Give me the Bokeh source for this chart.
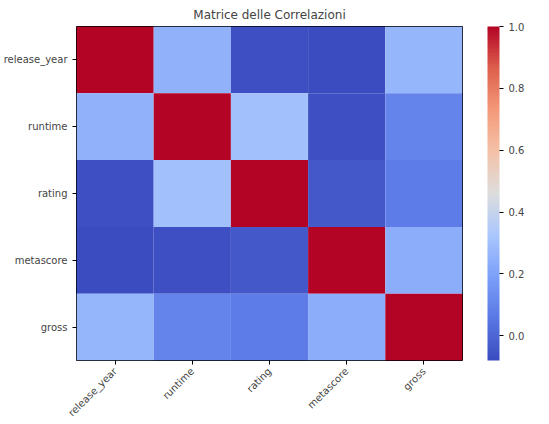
from bokeh.plotting import figure
from bokeh.models import ColumnDataSource, LinearColorMapper, ColorBar, FixedTicker, PrintfTickFormatter, Label
from bokeh.embed import file_html
from bokeh.resources import INLINE
import numpy as np

variables = ["release_year", "runtime", "rating", "metascore", "gross"]
corr = [
    [1.00, 0.25, -0.07, -0.08, 0.27],
    [0.25, 1.00, 0.30, -0.07, 0.10],
    [-0.07, 0.30, 1.00, -0.04, 0.07],
    [-0.08, -0.07, -0.04, 1.00, 0.24],
    [0.27, 0.10, 0.07, 0.24, 1.00],
]
cbar_ticks = [0.0, 0.2, 0.4, 0.6, 0.8, 1.0]

# coolwarm palette approximation
anchors = [(0.0, (59, 76, 192)), (0.125, (90, 120, 229)), (0.25, (124, 159, 249)),
           (0.375, (170, 199, 253)), (0.5, (221, 221, 221)), (0.625, (244, 194, 168)),
           (0.75, (244, 154, 123)), (0.875, (222, 96, 77)), (1.0, (180, 4, 38))]
pal = []
for i in range(256):
    t = i / 255
    for (t0, c0), (t1, c1) in zip(anchors[:-1], anchors[1:]):
        if t0 <= t <= t1:
            f = (t - t0) / (t1 - t0)
            c = [round(a + (b - a) * f) for a, b in zip(c0, c1)]
            pal.append("#%02x%02x%02x" % tuple(c))
            break

xs, ys, vs = [], [], []
for i, r in enumerate(variables):
    for j, c in enumerate(variables):
        xs.append(c); ys.append(r); vs.append(corr[i][j])
src = ColumnDataSource(dict(x=xs, y=ys, v=vs))
vmin = min(vs)
mapper = LinearColorMapper(palette=pal, low=vmin, high=1.0)

p = figure(x_range=variables, y_range=list(reversed(variables)), frame_width=386, frame_height=334,
           output_backend="svg", toolbar_location=None, min_border_left=12, min_border_top=4,
           min_border_right=34)
p.rect("x", "y", 1, 1, source=src, fill_color={"field": "v", "transform": mapper}, line_color=None)
p.title.text = "Matrice delle Correlazioni"
p.title.align = "center"
p.title.text_font = "DejaVu Sans"
p.title.text_font_size = "12px"
p.title.text_font_style = "normal"
p.grid.visible = False
p.outline_line_color = "black"
p.x_range.range_padding = 0
p.y_range.range_padding = 0
for ax in (p.xaxis, p.yaxis):
    ax.major_label_text_font = "DejaVu Sans"
    ax.major_label_text_font_size = "10px"
    ax.axis_line_color = None
    ax.major_tick_out = 4
    ax.major_tick_in = 0
p.xaxis.major_label_orientation = np.pi / 4

cb = ColorBar(color_mapper=mapper, width=12, height=334, ticker=FixedTicker(ticks=cbar_ticks),
              formatter=PrintfTickFormatter(format="%.1f"), major_label_text_font="DejaVu Sans",
              major_label_text_font_size="10px", padding=0, margin=0, bar_line_color=None,
              major_tick_line_color="black", major_tick_out=4, major_tick_in=0, location=(25, 0))
p.add_layout(cb, "right")
p.add_layout(Label(x=5.95, y=2.5, text="Correlazione", angle=np.pi / 2, text_align="center",
                   text_baseline="middle", text_font="DejaVu Sans", text_font_size="10px"))

open("out.html", "w").write(file_html(p, INLINE))
